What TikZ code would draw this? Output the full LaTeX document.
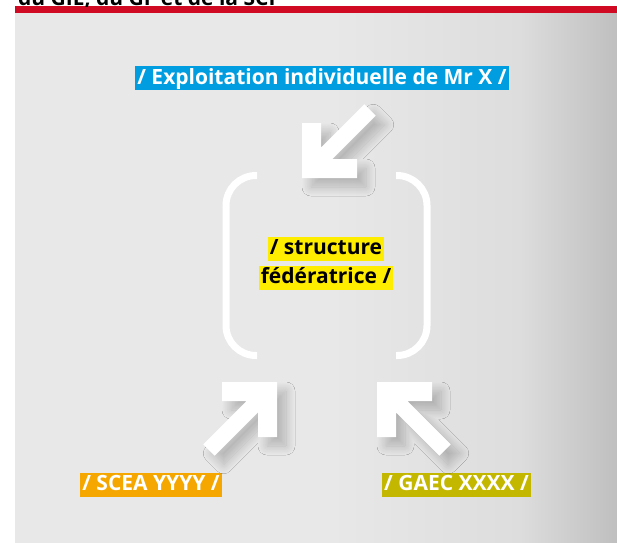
\documentclass[tikz,border=0pt]{standalone}
\usepackage{fontspec}
\setmainfont{Open Sans}
\usetikzlibrary{positioning,shadows.blur}
\definecolor{bandred}{RGB}{208,10,35}
\definecolor{panelgray}{RGB}{232,232,232}
\definecolor{skyblue}{RGB}{0,158,224}
\definecolor{yellowhl}{RGB}{255,237,0}
\definecolor{orangehl}{RGB}{245,167,0}
\definecolor{olivehl}{RGB}{196,183,0}
\tikzset{
  tagbox/.style   = {rectangle, text=white, inner xsep=2pt, inner ysep=2pt,
                     text height=16pt, text depth=4pt,
                     font=\bfseries\fontsize{21}{23}\selectfont},
  arrowbody/.style = {fill=white, blur shadow={shadow xshift=9pt,
                     shadow yshift=-9pt, shadow blur radius=9pt,
                     shadow blur steps=16, shadow opacity=22}},
  bracket/.style  = {draw=white, line width=7pt, rounded corners=30pt}
}
% big white arrow with an L-shaped head: tip, x sign, y sign
\newcommand{\bigarrow}[3]{%
  \fill[arrowbody] (#1) -- ++(#2*55,0) -- ++(0,#3*19) -- ++(#2*-24.7,0)
    -- ++(#2*43.4,#3*43.3) -- ++(#2*-11.4,#3*11.4) -- ++(#2*-43.3,#3*-43.4)
    -- ++(0,#3*24.7) -- ++(#2*-19,0) -- cycle;}

\begin{document}
\begin{tikzpicture}[x=1pt, y=-1pt]
\useasboundingbox (0,0) rectangle (617,542);
\fill[white] (-2,-2) rectangle (620,546);

% background panel and red band
\fill[panelgray] (15,13) rectangle (620,546);
\shade[left color=panelgray, right color={rgb,255:red,221;green,221;blue,221}]
  (330,13) rectangle (520,546);
\shade[left color={rgb,255:red,221;green,221;blue,221},
       right color={rgb,255:red,190;green,190;blue,190}]
  (520,13) rectangle (620,546);
\fill[bandred] (15,6) rectangle (620,13);
\begin{scope}
  \clip (0,0) rectangle (617,6);
  \node[anchor=base west, inner sep=0pt, font=\bfseries\fontsize{21}{23}\selectfont]
    (title) at (18,5) {du GIE, du GF et de la SCI};
\end{scope}

% labels
\node[tagbox, fill=skyblue] (exploit) at (322,78) {/ Exploitation individuelle de Mr X /};
\node[tagbox, fill=yellowhl, text=black] (struct1) at (326,248.5) {/ structure};
\node[tagbox, fill=yellowhl, text=black, below=5pt of struct1] (struct2) {fédératrice /};
\node[tagbox, fill=orangehl] (scea) at (151,484.5) {/ SCEA YYYY /};
\node[tagbox, fill=olivehl] (gaec) at (456.5,484.5) {/ GAEC XXXX /};

% brackets round the federating structure
\draw[bracket] (257,175.5) -- (226,175.5) -- (226,355.5) -- (257,355.5);
\draw[bracket] (396,175.5) -- (427,175.5) -- (427,355.5) -- (396,355.5);

% arrows
\coordinate (tipTop) at (302,178);
\coordinate (tipLeft) at (277,382);
\coordinate (tipRight) at (377,382);
\bigarrow{tipTop}{1}{-1}
\bigarrow{tipLeft}{-1}{1}
\bigarrow{tipRight}{1}{1}

\end{tikzpicture}
\end{document}
